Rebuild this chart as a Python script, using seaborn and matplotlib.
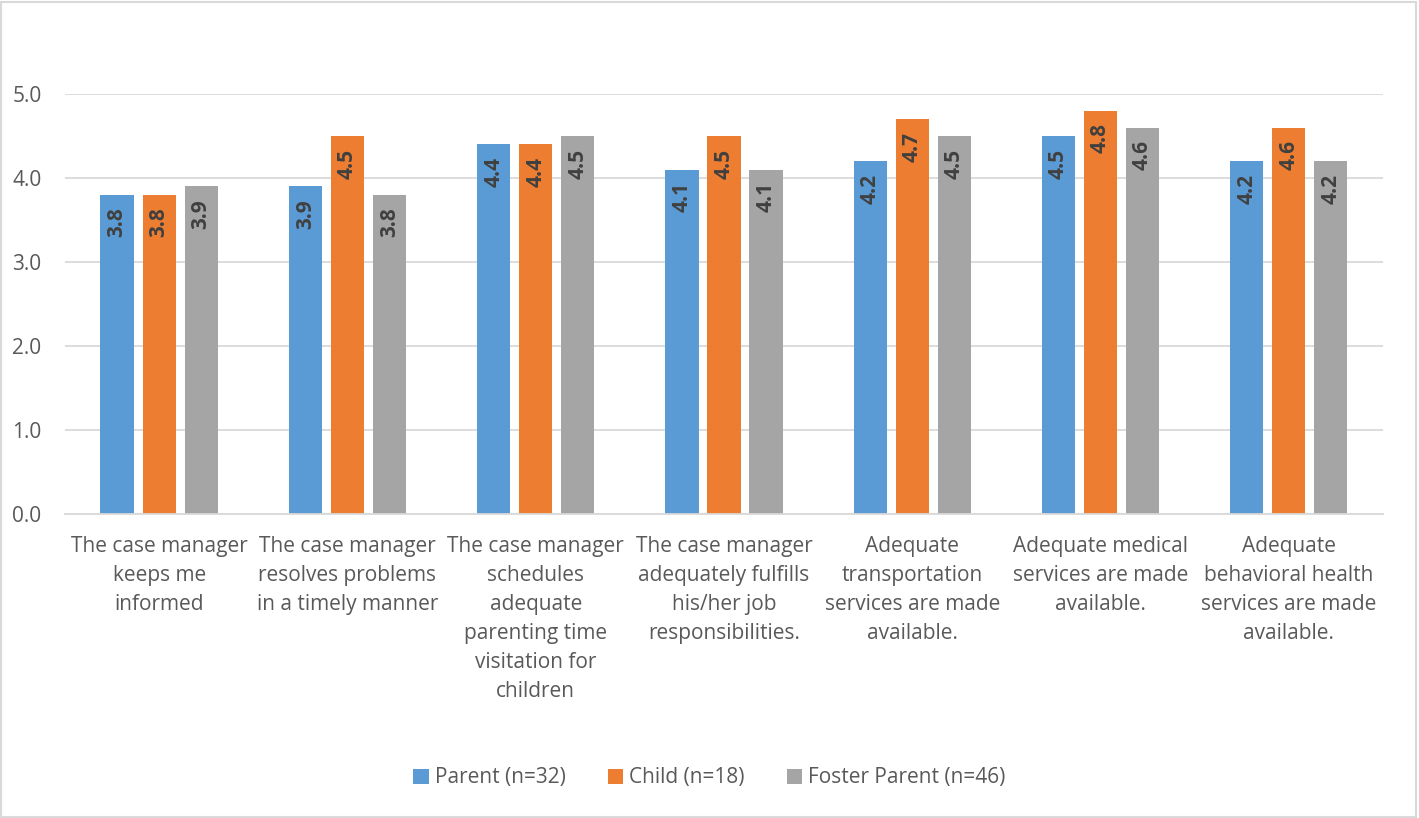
import matplotlib
matplotlib.use("Agg")
import matplotlib.pyplot as plt
import seaborn as sns
import pandas as pd
from matplotlib.patches import Rectangle

categories = [
    "The case manager\nkeeps me\ninformed",
    "The case manager\nresolves problems\nin a timely manner",
    "The case manager\nschedules\nadequate\nparenting time\nvisitation for\nchildren",
    "The case manager\nadequately fulfills\nhis/her job\nresponsibilities.",
    "Adequate\ntransportation\nservices are made\navailable.",
    "Adequate medical\nservices are made\navailable.",
    "Adequate\nbehavioral health\nservices are made\navailable.",
]
series_names = ["Parent (n=32)", "Child (n=18)", "Foster Parent (n=46)"]
parent = [3.8, 3.9, 4.4, 4.1, 4.2, 4.5, 4.2]
child = [3.8, 4.5, 4.4, 4.5, 4.7, 4.8, 4.6]
foster = [3.9, 3.8, 4.5, 4.1, 4.5, 4.6, 4.2]
colors = ["#5B9BD5", "#ED7D31", "#A5A5A5"]
y_ticks = [0.0, 1.0, 2.0, 3.0, 4.0, 5.0]

sns.set_theme(style="white")
plt.rcParams["font.family"] = ["Open Sans", "DejaVu Sans"]

rows = []
for name, vals in zip(series_names, [parent, child, foster]):
    for cat, v in zip(categories, vals):
        rows.append({"category": cat, "group": name, "score": v})
df = pd.DataFrame(rows)

fig = plt.figure(figsize=(14.19, 8.18), dpi=100)
ax = fig.add_axes([0.0458, 0.3716, 0.9288, 0.5134])

sns.barplot(data=df, x="category", y="score", hue="group",
            hue_order=series_names, order=categories, palette=colors,
            width=0.67, gap=0.21, saturation=1, errorbar=None,
            legend=True, ax=ax, linewidth=0)

ax.set_ylim(0, 5)
ax.set_xlim(-0.5, len(categories) - 0.5)
ax.set_yticks(y_ticks)
ax.set_yticklabels([f"{t:.1f}" for t in y_ticks], fontsize=15, color="#595959")
ax.tick_params(axis="y", length=0, pad=17)
ax.tick_params(axis="x", length=0, pad=16)
for lbl in ax.get_xticklabels():
    lbl.set_fontsize(15)
    lbl.set_color("#595959")
    lbl.set_linespacing(1.5)
    lbl.set_verticalalignment("top")
ax.set_xlabel("")
ax.set_ylabel("")
ax.grid(axis="y", color="#D9D9D9", linewidth=1.3)
ax.set_axisbelow(True)
for side in ["top", "right", "left"]:
    ax.spines[side].set_visible(False)
ax.spines["bottom"].set_color("#D9D9D9")
ax.spines["bottom"].set_linewidth(1.3)

for container in ax.containers:
    for bar in container:
        h = bar.get_height()
        ax.annotate(f"{h:.1f}", (bar.get_x() + bar.get_width() / 2, h),
                    xytext=(0, -9), textcoords="offset points",
                    ha="center", va="top", rotation=90,
                    fontsize=15, fontweight="bold", color="#404040")

handles, labels = ax.get_legend_handles_labels()
ax.legend_.remove()
fig.legend(handles, labels, loc="center", bbox_to_anchor=(0.5, 0.049),
           ncol=3, frameon=False, fontsize=15, handlelength=0.75,
           handleheight=0.75, handletextpad=0.3, columnspacing=2.0,
           labelcolor="#595959")

fig.patches.append(Rectangle((0.001, 0.001), 0.997, 0.997, transform=fig.transFigure,
                             fill=False, edgecolor="#D9D9D9", linewidth=1.5))

fig.savefig("out.png", dpi=100, facecolor="white")
